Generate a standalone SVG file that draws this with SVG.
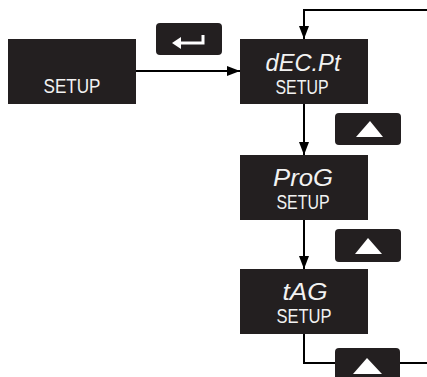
<svg xmlns="http://www.w3.org/2000/svg" width="427" height="377" viewBox="0 0 427 377">
<defs>
<style>
.box{fill:#231f20}
.btn{fill:#231f20}
.line{fill:none;stroke:#000;stroke-width:2}
.big{font-family:"Liberation Sans",Arial,sans-serif;font-style:italic;font-size:23px;fill:#f2f2f2;text-anchor:middle}
.small{font-family:"Liberation Sans",Arial,sans-serif;font-size:20px;fill:#f2f2f2;text-anchor:middle}
.tri{fill:#fff}
</style>
<marker id="ah" markerWidth="13" markerHeight="10" refX="13" refY="5" orient="auto" markerUnits="userSpaceOnUse">
<path d="M0,0 L13,5 L0,10 Z" fill="#000"/>
</marker>
</defs>
<rect width="427" height="377" fill="#fff"/>
<g id="connectors">
<line class="line" x1="136" y1="71" x2="240" y2="71" marker-end="url(#ah)"/>
<polyline class="line" points="427,10 304,10 304,39" marker-end="url(#ah)"/>
<line class="line" x1="304" y1="104" x2="304" y2="155" marker-end="url(#ah)"/>
<line class="line" x1="304" y1="220" x2="304" y2="269" marker-end="url(#ah)"/>
<polyline class="line" points="304,334 304,363 427,363"/>
</g>
<g id="setup-start">
<rect class="box" x="8" y="39" width="128" height="65"/>
<text class="small" x="72" y="93" textLength="57" lengthAdjust="spacingAndGlyphs">SETUP</text>
</g>
<g id="enter-btn">
<rect class="btn" x="156" y="23" width="66" height="32" rx="4"/>
<path d="M176,43 H203 V35" fill="none" stroke="#fff" stroke-width="3"/>
<path d="M172,43 L181,37 L181,49 Z" fill="#fff"/>
</g>
<g id="decpt">
<rect class="box" x="240" y="39" width="128" height="65"/>
<text class="big" x="303" y="71" textLength="75" lengthAdjust="spacingAndGlyphs">dEC.Pt</text>
<text class="small" x="302" y="94" textLength="53" lengthAdjust="spacingAndGlyphs">SETUP</text>
</g>
<g id="up1">
<rect class="btn" x="335" y="113" width="66" height="32" rx="4"/>
<path class="tri" d="M356,137 L370,121 L383,137 Z"/>
</g>
<g id="prog">
<rect class="box" x="240" y="155" width="128" height="65"/>
<text class="big" x="303" y="186" textLength="60" lengthAdjust="spacingAndGlyphs">ProG</text>
<text class="small" x="303" y="209" textLength="53" lengthAdjust="spacingAndGlyphs">SETUP</text>
</g>
<g id="up2">
<rect class="btn" x="335" y="229" width="66" height="33" rx="4"/>
<path class="tri" d="M355,254 L368,238 L382,254 Z"/>
</g>
<g id="tag">
<rect class="box" x="240" y="269" width="128" height="65"/>
<text class="big" x="305" y="300" textLength="45" lengthAdjust="spacingAndGlyphs">tAG</text>
<text class="small" x="304" y="323" textLength="55" lengthAdjust="spacingAndGlyphs">SETUP</text>
</g>
<g id="up3">
<rect class="btn" x="335" y="348" width="65" height="40" rx="4"/>
<path class="tri" d="M353,374 L367,358 L382,374 Z"/>
</g>
</svg>
